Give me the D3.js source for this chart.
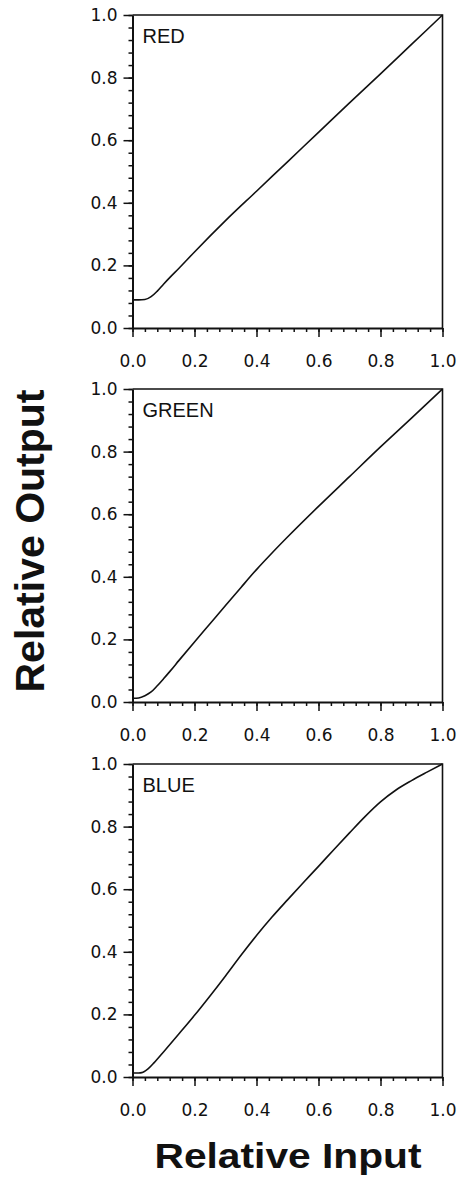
<!DOCTYPE html>
<html>
<head>
<meta charset="utf-8">
<script src="https://cdn.jsdelivr.net/npm/d3@7"></script>
<style>
  body { margin: 0; background: #fff; }
  svg { display: block; }
  .tick text { font-family: "DejaVu Sans", sans-serif; font-size: 17px; fill: #111; }
  .tick line { stroke: #111; stroke-width: 1.5; }
  .domain { stroke: #111; stroke-width: 2; }
</style>
</head>
<body>
<div id="chart"></div>
<script>
// channel names, one panel each
const channels = ["RED", "GREEN", "BLUE"];

// tick labels (same on both axes)
const majorTicks = [0, 0.2, 0.4, 0.6, 0.8, 1.0];
const minorTicks = d3.range(0, 1.0001, 0.04);

// relative input -> relative output
const red = [[0, 0.09], [0.02, 0.09], [0.04, 0.091], [0.06, 0.1], [0.08, 0.118], [0.1, 0.14],
  [0.12, 0.161], [0.15, 0.191], [0.2, 0.243], [0.3, 0.343], [0.4, 0.437], [0.5, 0.531],
  [0.6, 0.625], [0.7, 0.719], [0.8, 0.812], [0.9, 0.906], [1, 1]];

const green = [[0, 0.012], [0.02, 0.013], [0.04, 0.02], [0.06, 0.032], [0.08, 0.052], [0.1, 0.074],
  [0.12, 0.097], [0.15, 0.133], [0.2, 0.192], [0.25, 0.25], [0.3, 0.308], [0.35, 0.366],
  [0.4, 0.423], [0.45, 0.476], [0.5, 0.527], [0.6, 0.625], [0.7, 0.72], [0.8, 0.815],
  [0.9, 0.907], [1, 1]];

const blue = [[0, 0.013], [0.02, 0.013], [0.03, 0.014], [0.05, 0.026], [0.07, 0.046], [0.1, 0.08],
  [0.15, 0.138], [0.2, 0.197], [0.25, 0.259], [0.3, 0.323], [0.35, 0.389], [0.4, 0.452],
  [0.45, 0.511], [0.5, 0.566], [0.55, 0.62], [0.6, 0.673], [0.65, 0.727], [0.7, 0.78],
  [0.75, 0.832], [0.8, 0.879], [0.85, 0.917], [0.9, 0.947], [0.95, 0.974], [1, 1]];

const curves = [red, green, blue];

const width = 464, height = 1178;
const left = 132.5, right = 442.5;
const panelTops = [15, 389, 764];
const panelH = 313;

const svg = d3.select("#chart").append("svg")
  .attr("width", width)
  .attr("height", height);

const x = d3.scaleLinear().domain([0, 1]).range([left, right]);

channels.forEach((name, i) => {
  const top = panelTops[i];
  const y = d3.scaleLinear().domain([0, 1]).range([top + panelH, top]);
  const g = svg.append("g");

  // frame: top and right edges
  g.append("path")
    .attr("d", `M${x(0)},${y(1)}H${x(1)}V${y(0)}`)
    .attr("fill", "none")
    .attr("stroke", "#111")
    .attr("stroke-width", 1.6);

  // minor ticks
  g.append("g")
    .attr("transform", `translate(0,${y(0)})`)
    .call(d3.axisBottom(x).tickValues(minorTicks).tickSize(4).tickFormat(""))
    .call(s => s.select(".domain").remove());
  g.append("g")
    .attr("transform", `translate(${x(0)},0)`)
    .call(d3.axisLeft(y).tickValues(minorTicks).tickSize(4).tickFormat(""))
    .call(s => s.select(".domain").remove());

  // major ticks and labels
  g.append("g")
    .attr("transform", `translate(0,${y(0)})`)
    .call(d3.axisBottom(x).tickValues(majorTicks).tickSize(9).tickSizeOuter(0)
      .tickPadding(18).tickFormat(d3.format(".1f")));
  g.append("g")
    .attr("transform", `translate(${x(0)},0)`)
    .call(d3.axisLeft(y).tickValues(majorTicks).tickSize(9).tickSizeOuter(0)
      .tickPadding(6).tickFormat(d3.format(".1f")));

  // the curve
  const line = d3.line()
    .x(d => x(d[0]))
    .y(d => y(d[1]))
    .curve(d3.curveMonotoneX);

  g.append("path")
    .datum(curves[i])
    .attr("d", line)
    .attr("fill", "none")
    .attr("stroke", "#111")
    .attr("stroke-width", 1.6);

  g.append("text")
    .attr("x", x(0) + 10)
    .attr("y", top + 28)
    .attr("font-family", "Liberation Sans, Arial, sans-serif")
    .attr("font-size", 20)
    .attr("fill", "#111")
    .text(name);
});

// axis titles
svg.append("text")
  .attr("transform", "translate(44,541) rotate(-90)")
  .attr("text-anchor", "middle")
  .attr("font-family", "Liberation Sans, Arial, sans-serif")
  .attr("font-weight", "bold")
  .attr("font-size", 41)
  .attr("fill", "#111")
  .text("Relative Output");

svg.append("text")
  .attr("x", 288)
  .attr("y", 1168)
  .attr("text-anchor", "middle")
  .attr("font-family", "Liberation Sans, Arial, sans-serif")
  .attr("font-weight", "bold")
  .attr("font-size", 35)
  .attr("textLength", 267)
  .attr("lengthAdjust", "spacingAndGlyphs")
  .attr("fill", "#111")
  .text("Relative Input");
</script>
</body>
</html>
